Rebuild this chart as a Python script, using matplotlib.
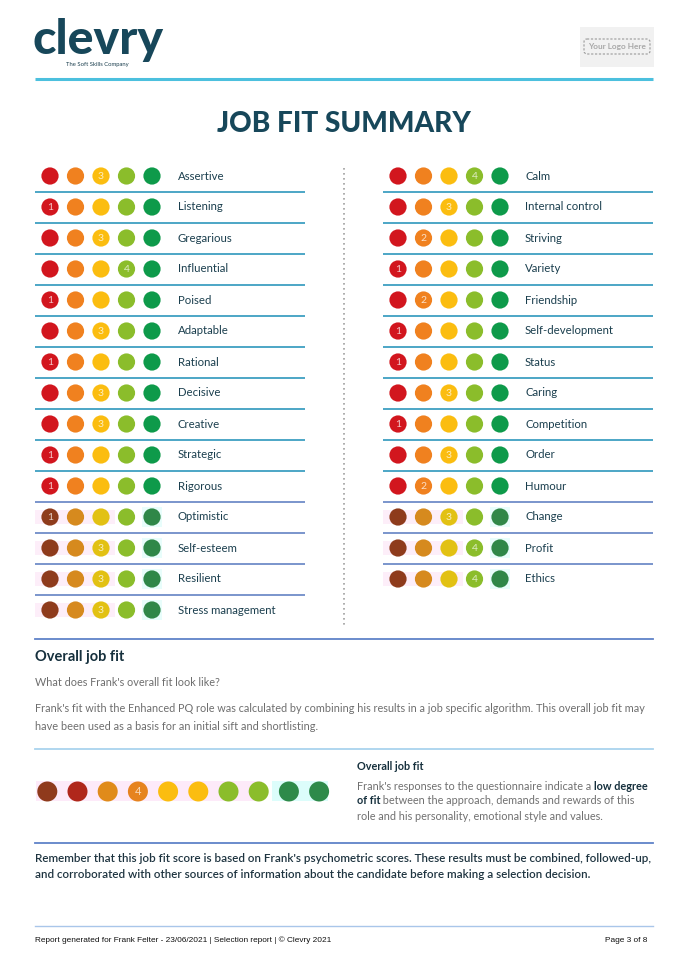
import matplotlib
matplotlib.use("Agg")
import matplotlib.pyplot as plt
from matplotlib.patches import Circle, FancyBboxPatch, Rectangle

# ---------------- data ----------------
left_traits = ["Assertive", "Listening", "Gregarious", "Influential", "Poised", "Adaptable",
               "Rational", "Decisive", "Creative", "Strategic", "Rigorous", "Optimistic",
               "Self-esteem", "Resilient", "Stress management"]
left_scores = [3, 1, 3, 4, 1, 3, 1, 3, 3, 1, 1, 1, 3, 3, 3]
right_traits = ["Calm", "Internal control", "Striving", "Variety", "Friendship",
                "Self-development", "Status", "Caring", "Competition", "Order", "Humour",
                "Change", "Profit", "Ethics"]
right_scores = [4, 3, 2, 1, 2, 1, 1, 3, 1, 3, 2, 3, 4, 4]
scale_levels = [1, 2, 3, 4, 5]
overall_levels = [1, 2, 3, 4, 5, 6, 7, 8, 9, 10]
overall_score = 4

# ---------------- style ----------------
W, H = 688, 973
FONT = "Lato"
DARK = "#1b3f4e"
TEAL = "#17475a"
level_colors = {1: "#d2161e", 2: "#f0811f", 3: "#fbbd10", 4: "#8bbd2b", 5: "#0e9a4a"}
muted_colors = {1: "#8e3b1c", 2: "#d68a1e", 3: "#e2c113", 4: "#8bbd2b", 5: "#2f8748"}
overall_colors = ["#8f3a1c", "#b0271b", "#e08b1b", "#e6831f", "#fbbd10",
                  "#fbbd10", "#8bbd2b", "#8bbd2b", "#2e8a4a", "#2e8a4a"]

fig = plt.figure(figsize=(W / 100, H / 100), dpi=100)
ax = fig.add_axes([0, 0, 1, 1])
ax.set_xlim(0, W)
ax.set_ylim(H, 0)
ax.axis("off")
fig.canvas.draw()
renderer = fig.canvas.get_renderer()


def text_w(t):
    return t.get_window_extent(renderer=renderer).width


def fit(x, y, s, width, size=10, ha="left", **kw):
    t = ax.text(x, y, s, fontsize=size, ha=ha, va="center", **kw)
    w = text_w(t)
    if w > 0:
        t.set_fontsize(size * width / w)
    return t


def rich_line(x, y, parts, size, color_n, color_b):
    cur = x
    for s, bold in parts:
        t = ax.text(cur, y, s, fontsize=size, ha="left", va="center", family=FONT,
                    fontweight="bold" if bold else "normal",
                    color=color_b if bold else color_n)
        cur += text_w(t)
    return cur


# ---------------- header ----------------
fit(33, 40.5, "clevry", 131, size=40, family=FONT, fontweight="black", color=TEAL)
ax.text(66, 64.5, "The Soft Skills Company", fontsize=4.2, family=FONT, color=DARK,
        ha="left", va="center")
ax.add_patch(Rectangle((580, 27), 74, 40, facecolor="#f1f1f1", edgecolor="none"))
ax.add_patch(FancyBboxPatch((584, 39), 66, 15, boxstyle="round,pad=0,rounding_size=3",
                            facecolor="none", edgecolor="#9a9a9a", lw=0.8, ls=(0, (2, 1.5))))
fit(617, 46.5, "Your Logo Here", 59, size=7, ha="center", family=FONT, fontweight="bold",
    color="#a8a8a8")
ax.plot([35, 653], [79, 79], color="#4cc0de", lw=2.2, solid_capstyle="butt")

fit(344, 124, "JOB FIT SUMMARY", 254, size=22, ha="center", family=FONT,
    fontweight="black", color=TEAL)

# ---------------- trait grid ----------------
row0, dy = 176, 31
r = 8.6


def draw_column(traits, scores, cx0, lx, line_x0, line_x1):
    for i, (name, sc) in enumerate(zip(traits, scores)):
        y = row0 + i * dy
        faded = i >= 11
        pal = muted_colors if faded else level_colors
        if faded:
            ax.add_patch(Rectangle((cx0 - 15, y - 7), 80, 14, facecolor="#fdeef9",
                                   edgecolor="none", zorder=0))
            ax.add_patch(Rectangle((cx0 + 4 * 25.5 - 10, y - 10), 20, 20,
                                   facecolor="#e8fdfb", edgecolor="none", zorder=0))
        for j, lev in enumerate(scale_levels):
            cx = cx0 + j * 25.5
            ax.add_patch(Circle((cx, y), r, facecolor=pal[lev], edgecolor="none", zorder=2))
            if lev == sc:
                ax.text(cx, y + 0.3, str(sc), fontsize=7.5, family=FONT, color="white",
                        alpha=0.75, ha="center", va="center", zorder=3)
        ax.text(lx, y, name, fontsize=8.2, family=FONT, color=DARK, ha="left", va="center")
        if i < len(traits) - 1:
            lc = "#3e9fc1" if i < 10 else "#6f8cc8"
            ax.plot([line_x0, line_x1], [y + 16, y + 16], color=lc, lw=1.3,
                    solid_capstyle="butt")


draw_column(left_traits, left_scores, 50, 178, 35, 305)
draw_column(right_traits, right_scores, 398, 525, 383, 653)
ax.plot([344, 344], [168, 625], color="#a0a0a0", lw=1.2, ls=(0, (1, 2)))

# ---------------- overall job fit ----------------
ax.plot([35, 653], [639, 639], color="#5f82c8", lw=1.3)
ax.text(35, 657, "Overall job fit", fontsize=10.5, family=FONT, fontweight="bold",
        color="#16303d", ha="left", va="center")
ax.text(35, 683, "What does Frank's overall fit look like?", fontsize=7.8, family=FONT,
        color="#6e6e6e", ha="left", va="center")
fit(35, 708, "Frank's fit with the Enhanced PQ role was calculated by combining his results "
    "in a job specific algorithm. This overall job fit may", 611, size=8, family=FONT,
    color="#6e6e6e")
fit(35, 727, "have been used as a basis for an initial sift and shortlisting.", 282, size=8,
    family=FONT, color="#6e6e6e")
ax.plot([35, 653], [749, 749], color="#a9d3ee", lw=1.3)

ax.add_patch(Rectangle((36, 781), 226, 20, facecolor="#fdeaf9", edgecolor="none", zorder=0))
ax.add_patch(Rectangle((272, 781), 56, 20, facecolor="#dcfdfb", edgecolor="none", zorder=0))
for k, lev in enumerate(overall_levels):
    cx = 47.3 + k * 30.2
    ax.add_patch(Circle((cx, 791.5), 10, facecolor=overall_colors[k], edgecolor="none",
                        zorder=2))
    if lev == overall_score:
        ax.text(cx, 791.5, str(lev), fontsize=8, family=FONT, color="white", alpha=0.7,
                ha="center", va="center", zorder=3)

ax.text(357, 766, "Overall job fit", fontsize=7.8, family=FONT, fontweight="bold",
        color="#16303d", ha="left", va="center")
GREY = "#707070"
sz = 7.85
rich_line(357, 786, [("Frank's responses to the questionnaire indicate a ", False),
                     ("low degree", True)], sz, GREY, "#16303d")
rich_line(357, 801, [("of fit", True), (" between the approach, demands and rewards of this",
                                         False)], sz, GREY, "#16303d")
rich_line(357, 817, [("role and his personality, emotional style and values.", False)], sz,
          GREY, "#16303d")

ax.plot([35, 653], [843, 843], color="#5f82c8", lw=1.3)
fit(35, 858, "Remember that this job fit score is based on Frank's psychometric scores. "
    "These results must be combined, followed-up,", 615, size=8.5, family=FONT,
    fontweight="semibold", color="#1e3440")
fit(35, 875, "and corroborated with other sources of information about the candidate "
    "before making a selection decision.", 556, size=8.5, family=FONT,
    fontweight="semibold", color="#1e3440")

# ---------------- footer ----------------
FOOT = ["Liberation Sans Narrow", "Liberation Sans"]
ax.plot([35, 653], [926, 926], color="#a9c6ea", lw=1.0)
ft = fit(35, 940.5, "Report generated for Frank Felter - 23/06/2021 | Selection report | \u00a9 Clevry 2021",
         300, size=6, family=FOOT, color="#111111")
ax.text(647, 940.5, "Page 3 of 8", fontsize=ft.get_fontsize(), ha="right", va="center",
        family=FOOT, color="#111111")

fig.savefig("out.png", dpi=100)
